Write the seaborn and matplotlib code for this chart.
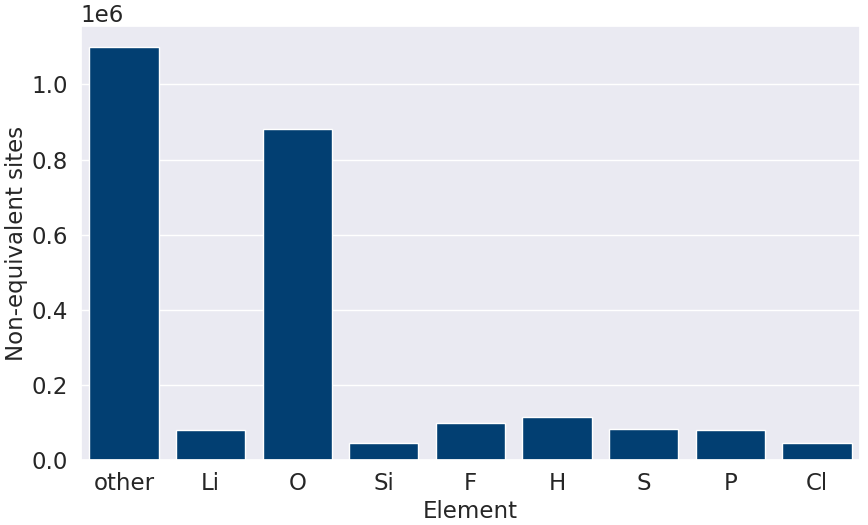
import matplotlib
matplotlib.use("Agg")
import matplotlib.pyplot as plt
import seaborn as sns
import pandas as pd

elements = ["other", "Li", "O", "Si", "F", "H", "S", "P", "Cl"]
sites = [1.099e6, 0.080e6, 0.881e6, 0.0455e6, 0.099e6, 0.115e6, 0.083e6, 0.080e6, 0.0455e6]

sns.set_theme(style="darkgrid", context="notebook", font_scale=1.5)
plt.rcParams["axes.labelsize"] = 16.5

df = pd.DataFrame({"Element": elements, "Non-equivalent sites": sites})

fig, ax = plt.subplots(figsize=(8.68, 5.25), dpi=100)
sns.barplot(data=df, x="Element", y="Non-equivalent sites", color="#023f72",
            saturation=1, ax=ax)
ax.set_ylim(0, 1.155e6)
ax.tick_params(pad=3)
ax.set_xlabel("Element", labelpad=3)
ax.set_ylabel("Non-equivalent sites", labelpad=3)
fig.subplots_adjust(left=0.093, right=0.991, top=0.950, bottom=0.124)
fig.savefig("out.png", dpi=100)
